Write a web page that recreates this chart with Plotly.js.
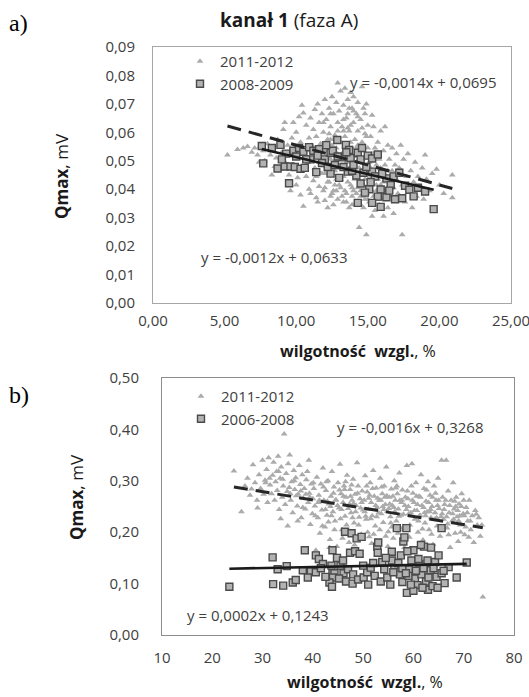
<!DOCTYPE html>
<html><head><meta charset="utf-8">
<script src="https://cdn.plot.ly/plotly-3.0.1.min.js"></script>
<style>html,body{margin:0;padding:0;background:#fff}#chart{width:529px;height:697px}</style>
</head><body><div id="chart"></div>
<script>
// ---------- panel a) kanał 1 (faza A) ----------
const seriesA = ["2011-2012", "2008-2009"];
const triA_x = [
5.2,5.9,6.3,6.6,6.9,7.1,7.3,7.5,7.7,7.8, 7.4,8.0,8.2,8.4,8.5,8.6,8.8,8.9,8.3,8.7,
9.0,9.1,9.2,9.3,9.4,9.5,9.6,9.7,9.8,9.9, 10.0,10.1,10.2,10.3,10.4,10.5,10.5,10.6,10.7,10.8, 10.9,10.9,10.0,9.6,10.3,10.7,11.0,11.0,9.8,10.2,
11.1,11.2,11.2,11.3,11.3,11.4,11.4,11.5,11.5,11.6, 11.6,11.7,11.7,11.8,11.8,11.9,11.9,12.0,12.0,12.0, 12.1,12.1,12.2,12.2,12.3,12.3,12.4,12.4,12.5,12.5, 12.5,12.6,12.6,12.7,12.7,12.8,12.8,12.8,12.9,12.9, 12.9,13.0,13.0,13.0,12.2,11.5,12.6,11.0,12.0,12.3,
13.1,13.1,13.2,13.2,13.3,13.3,13.3,13.4,13.4,13.5, 13.5,13.5,13.6,13.6,13.6,13.7,13.7,13.8,13.8,13.8, 13.9,13.9,14.0,14.0,14.0,14.1,14.1,14.2,14.2,14.2, 14.3,14.3,14.3,14.4,14.4,14.4,14.5,14.5,14.6,14.6, 14.6,14.7,14.7,14.7,14.8,14.8,14.9,14.9,14.9,15.0, 15.0,15.0,13.2,13.9,14.5,13.6,14.8,
15.1,15.1,15.2,15.2,15.3,15.3,15.4,15.4,15.4,15.5, 15.5,15.6,15.6,15.7,15.7,15.8,15.8,15.9,15.9,16.0, 16.0,16.1,16.2,16.2,16.2,16.3,16.4,16.4,16.5,16.5, 16.6,16.7,16.7,16.8,16.8,16.9,17.0,17.0,15.3,16.1, 15.9,16.6,
17.1,17.2,17.3,17.4,17.4,17.5,17.6,17.7,17.8,17.9, 18.0,18.1,18.2,18.3,18.4,18.5,18.6,18.8,18.9,19.1, 19.3,19.5,19.8,20.0,20.3,20.9,20.9,19.0,
11.3,11.6,11.9,12.1,12.4,12.7,12.9,13.1,13.4,13.7, 13.9,14.1,14.4,14.6,14.9,15.2,15.5,15.8,16.1,16.4, 12.2,12.6,13.0,13.3,13.5,13.8,14.0,14.3,14.6,14.9, 15.1,15.4,15.6,11.8,12.0,12.5,12.8,13.2,13.5,13.9, 14.2,14.5,14.7,15.0,15.3,15.7,16.0,16.3,13.6,13.3, 14.0,14.3,12.9,13.7,14.8,12.4,11.9,11.4,10.8,10.4,
12.3,12.7,13.1,13.4,13.8,14.1,14.5,14.8,15.2,15.6, 12.6,13.2,13.9,14.4,15.0,11.7,12.4,13.6,14.2,14.9
];
const triA_y = [
.052,.054,.0545,.055,.053,.0545,.052,.055,.0535,.050, .0495,.056,.052,.0545,.048,.051,.0555,.047,.045,.0575,
.053,.061,.0635,.049,.0555,.045,.052,.058,.0485,.0545, .060,.044,.051,.0565,.0695,.0668,.034,.047,.0625,.0535, .040,.058,.0415,.0395,.038,.0445,.065,.0505,.0635,.0655,
.0555,.061,.043,.068,.0475,.0585,.037,.0525,.070,.0635, .041,.0455,.056,.0665,.0505,.0395,.060,.0535,.0715,.036, .048,.0645,.0575,.0425,.0685,.0515,.0375,.062,.0455,.0555, .0725,.0665,.0395,.050,.059,.0435,.0705,.0545,.0773,.0365, .0635,.0475,.0675,.0565,.0335,.0355,.0345,.0385,.0455,.0595,
.0745,.0405,.0525,.062,.0695,.0445,.0355,.0585,.0755,.0495, .065,.0385,.0715,.0545,.0425,.0605,.0335,.074,.0465,.0565, .0685,.0375,.0515,.0635,.0725,.0435,.0575,.0665,.0355,.0495, .0705,.0405,.0605,.0535,.0265,.0455,.0645,.0375,.076,.0505, .0565,.0415,.0685,.0335,.0595,.0475,.070,.024,.0385,.0545, .0625,.0435,.0485,.0405,.0345,.0615,.0365,
.0495,.0355,.0585,.0415,.0525,.066,.0455,.0375,.062,.0545, .0325,.0485,.0395,.0565,.0435,.0345,.0505,.0605,.0415,.0465, .0365,.0535,.062,.0395,.0485,.0445,.0555,.0335,.0415,.0505, .0375,.0465,.0545,.0405,.0315,.0485,.0435,.0525,.0305,.0305, .0475,.0445,
.0385,.0475,.0555,.024,.0415,.0505,.0355,.0445,.0525,.0395, .0465,.0335,.0425,.0495,.0375,.0445,.0405,.0475,.0365,.0435, .0395,.0455,.047,.0415,.0385,.045,.037,.052,
.0535,.0495,.0545,.0515,.0505,.0465,.0525,.0565,.0475,.0505, .0545,.0485,.0505,.0455,.0515,.0475,.0505,.0445,.0425,.0465, .0545,.0575,.0415,.0605,.0555,.0625,.0395,.0555,.0615,.0455, .0405,.0525,.0435,.0455,.0405,.0385,.0395,.0375,.0355,.0345, .0385,.0395,.0375,.0365,.0395,.0365,.0395,.0375,.0665,.0645, .0675,.0655,.0605,.0685,.0665,.0665,.0635,.0445,.0495,.0475,
.0425,.0415,.0435,.0395,.0415,.0455,.0425,.0435,.0445,.0415, .0485,.0505,.0495,.0475,.0465,.0525,.0575,.0525,.0545,.0585
];
const sqA_x = [
7.6,7.7,8.7,8.9,9.2,9.5,9.6,9.9,9.8,10.2, 10.5,10.9,11.2,11.6,10.3,10.6,11.4,12.0,12.4,12.55,
12.87,13.2,13.47,13.7,13.8,14.3,14.5,15.0,15.3,15.7, 12.4,13.0,13.6,14.2,14.5,15.1,15.9,14.8,15.7,16.3,
16.9,14.3,15.3,15.9,15.3,16.3,16.8,17.2,17.6,17.4, 19.6,11.0,11.8,12.2,12.7,13.3,13.9,14.7,10.0,9.3,
8.3,11.5,12.9,14.0,14.9,15.5,16.0,16.6,17.9,18.5, 19.0,13.5,14.6,12.1,10.7,9.0,18.2,15.2,16.5
];
const sqA_y = [
.0552,.0491,.0473,.0556,.048,.0421,.048,.0478,.0535,.0545, .0532,.0548,.0535,.0541,.0472,.0475,.046,.0505,.0528,.0535,
.0573,.0512,.0556,.0538,.051,.0528,.0505,.0518,.0508,.0522, .0455,.044,.0462,.0448,.042,.040,.0399,.0388,.0374,.0372,
.0365,.0352,.0352,.0338,.0462,.0438,.0445,.0458,.0412,.0368, .033,.0505,.0492,.0478,.0485,.0478,.0465,.0458,.0515,.0525,
.0545,.0518,.0515,.0485,.0478,.0445,.0455,.0415,.0398,.0405, .0392,.053,.0545,.0555,.0505,.0505,.0375,.0425,.0395
];
const trendA_tri = [-0.0014, 0.0695];   // slope, intercept
const trendA_sq  = [-0.0012, 0.0633];
const eqTextA = ["y = -0,0014x + 0,0695", "y = -0,0012x + 0,0633"];

// ---------- panel b) ----------
const seriesB = ["2011-2012", "2006-2008"];
const triB_x = [
24.3,25.8,26.5,27.0,27.5,28.1,28.5,28.9,29.3,29.6, 30.0,30.2,30.5,29.0,27.8,
30.8,31.0,31.2,31.5,31.8,32.0,32.2,32.4,32.6,32.9, 33.1,33.3,33.5,33.7,33.9,34.1,34.3,34.5,34.7,34.9, 35.1,35.4,35.6,35.8,36.0,36.2,36.4,36.6,36.9,37.1, 37.3,37.5,37.7,37.9,38.1,38.3,38.5,38.7,38.9,39.1, 39.3,39.5,39.7,39.9,40.0,31.4,32.8,34.0,35.3,36.7, 38.0,39.2,33.6,35.0,37.0,
40.2,40.4,40.6,40.8,41.0,41.2,41.4,41.6,41.8,42.0, 42.2,42.4,42.6,42.8,43.0,43.2,43.4,43.6,43.8,44.0, 44.2,44.4,44.6,44.8,45.0,45.2,45.4,45.6,45.8,46.0, 46.2,46.4,46.6,46.8,47.0,47.2,47.4,47.6,47.8,48.0, 48.2,48.4,48.6,48.8,49.0,49.2,49.4,49.6,49.8,50.0, 41.1,42.5,43.7,44.9,46.1,47.3,48.5,49.7,40.5,41.9, 43.1,44.3,45.5,46.7,47.9,49.1,42.7,44.1,45.3,46.5, 47.7,48.9,43.3,45.9,48.3,46.9,
50.2,50.4,50.6,50.8,51.0,51.2,51.4,51.6,51.8,52.0, 52.2,52.4,52.6,52.8,53.0,53.2,53.4,53.6,53.8,54.0, 54.2,54.4,54.6,54.8,55.0,55.2,55.4,55.6,55.8,56.0, 56.2,56.4,56.6,56.8,57.0,57.2,57.4,57.6,57.8,58.0, 58.2,58.4,58.7,59.0,59.3,59.7,59.9,50.3,51.5,52.7, 53.9,55.1,56.3,57.5,58.6,59.5,50.9,52.1,53.3,54.5, 55.7,56.9,58.1,59.2,51.3,52.9,54.3,55.9,57.3,58.9, 50.7,53.7,56.5,59.6,51.7,54.9,57.9,
60.1,60.3,60.5,60.7,60.9,61.1,61.3,61.5,61.7,61.9, 62.1,62.3,62.5,62.7,62.9,63.1,63.3,63.5,63.7,63.9, 64.1,64.3,64.5,64.7,64.9,65.1,65.3,65.6,65.8,66.0, 66.2,66.5,66.7,66.9,67.1,67.3,67.5,67.7,67.9,68.1, 68.3,68.5,68.7,68.9,69.1,69.3,69.6,69.9,70.2,70.5, 70.8,71.1,71.4,71.7,72.0,72.3,72.7,73.0,73.3,73.6, 73.8,61.0,62.2,63.4,64.6,65.7,66.8,68.0,69.2,70.4, 60.6,62.6,64.4,66.4,68.4,70.0,61.8,63.6,65.4,67.0, 69.4,71.0,
44.5,45.7,46.3,47.5,48.1,49.5,50.5,51.1,51.9,52.5, 53.1,53.5,54.1,54.7,55.3,55.5,56.1,56.7,57.1,57.7, 58.3,58.8,59.1,59.8,60.2,60.8,61.4,62.0,62.4,63.0, 63.2,63.8,64.2,64.8,65.0,65.5,66.1,66.6,67.2,67.8, 68.2,68.8,69.0,69.5,70.1,70.7,71.3,72.5,35.5,37.6, 39.4,41.3,42.1,43.5,36.3,38.6,40.1,42.9,30.6,33.2
];
const triB_y = [
.319,.240,.290,.305,.272,.331,.296,.262,.312,.285, .340,.274,.301,.247,.284,
.322,.258,.345,.292,.275,.311,.336,.262,.298,.281, .348,.244,.305,.327,.268,.290,.391,.254,.314,.279, .333,.350,.262,.298,.238,.320,.283,.306,.251,.274, .330,.293,.228,.312,.266,.285,.245,.302,.318,.258, .276,.215,.294,.236,.265,.305,.318,.303,.287,.271, .248,.340,.226,.212,.222,
.285,.251,.165,.307,.228,.272,.198,.294,.243,.325, .262,.210,.281,.233,.300,.255,.186,.270,.318,.240, .288,.222,.263,.172,.296,.247,.332,.275,.205,.258, .290,.231,.268,.311,.246,.180,.283,.238,.262,.303, .218,.274,.252,.335,.290,.229,.265,.196,.280,.243, .258,.244,.232,.252,.270,.255,.240,.258,.232,.212, .220,.205,.226,.214,.228,.214,.298,.276,.282,.298, .292,.276,.170,.188,.175,.200,
.262,.310,.225,.278,.244,.191,.296,.258,.232,.320, .270,.212,.286,.248,.178,.262,.305,.236,.275,.219, .290,.254,.327,.241,.201,.268,.230,.284,.252,.188, .300,.262,.222,.275,.245,.315,.208,.258,.282,.235, .170,.268,.330,.250,.214,.333,.276,.240,.226,.230, .250,.246,.240,.233,.244,.238,.200,.196,.205,.192, .210,.198,.205,.190,.272,.266,.268,.270,.262,.265, .290,.288,.286,.290,.178,.172,.182,
.258,.225,.296,.242,.200,.270,.233,.312,.252,.185, .285,.218,.260,.240,.298,.205,.272,.228,.250,.176, .290,.238,.262,.212,.305,.246,.192,.340,.268,.225, .254,.340,.208,.280,.238,.170,.262,.222,.296,.245, .198,.268,.230,.182,.255,.214,.275,.236,.195,.248, .222,.262,.205,.232,.180,.242,.214,.228,.192,.214, .074,.222,.238,.244,.228,.236,.216,.225,.232,.210, .270,.282,.276,.262,.250,.262,.206,.196,.210,.195, .200,.190,
.262,.244,.283,.270,.256,.247,.231,.266,.285,.252, .238,.262,.244,.271,.255,.218,.248,.290,.231,.262, .252,.280,.236,.262,.242,.254,.268,.248,.232,.258, .240,.268,.225,.252,.262,.230,.244,.230,.252,.236, .260,.242,.222,.250,.232,.238,.222,.235,.275,.280, .268,.262,.288,.250,.300,.274,.296,.260,.296,.318
];
const sqB_x = [
23.4,32.0,33.0,34.8,32.1,34.1,36.0,36.6,38.4,40.6, 41.2,42.0,43.9,43.7,43.9,39.6,40.6,41.6,44.3,44.0,
43.3,43.8,46.4,47.7,48.7,49.7,47.4,48.4,49.3,45.5, 46.1,47.0,48.0,45.2,46.6,47.9,49.0,50.1,50.8,51.5,
52.3,52.8,53.0,52.9,53.5,54.2,54.8,55.4,55.7,56.2, 56.7,57.3,57.8,58.0,58.2,58.6,58.7,59.1,59.6,60.0,
60.3,60.8,61.2,61.6,62.1,62.5,62.9,63.4,63.8,64.3, 64.6,65.0,65.6,65.6,66.2,67.0,68.6,70.6,55.7,57.0,
59.0,60.5,61.0,62.0,63.0,64.0,53.8,51.0,50.0,57.5, 56.0,60.0,61.8,59.5,64.8,44.8,46.0,38.0,39.0,42.5,
58.8,61.5,63.5,66.0,54.5,52.0,57.8,58.5,62.8
];
const sqB_y = [
.094,.151,.128,.134,.099,.096,.102,.107,.165,.155, .148,.138,.165,.135,.120,.124,.122,.130,.120,.112,
.102,.094,.201,.198,.188,.191,.160,.163,.158,.135, .120,.128,.118,.110,.104,.100,.108,.112,.122,.131,
.115,.172,.180,.160,.104,.128,.112,.098,.162,.135, .208,.118,.103,.182,.190,.208,.082,.128,.145,.165,
.110,.097,.138,.118,.172,.104,.088,.126,.095,.142, .113,.155,.120,.208,.101,.132,.112,.141,.145,.140,
.115,.125,.148,.130,.112,.130,.142,.098,.135,.155, .122,.086,.092,.098,.092,.150,.145,.126,.112,.113,
.163,.175,.170,.125,.150,.140,.130,.120,.145
];
const trendB_tri = [-0.0016, 0.3268];
const trendB_sq  = [0.0002, 0.1243];
const eqTextB = ["y = -0,0016x + 0,3268", "y = 0,0002x + 0,1243"];

// ---------- helpers ----------
function trendLine(xs, coef) {
  const x0 = Math.min(...xs), x1 = Math.max(...xs);
  return {x: [x0, x1], y: [coef[0]*x0 + coef[1], coef[0]*x1 + coef[1]]};
}
const W = 529, H = 697;
const px = v => v / W, py = v => 1 - v / H;
const FONT = "Open Sans, sans-serif";
const TXT = "#404040";
const triStyle = {symbol: "triangle-up", size: 6, color: "#ababab"};
const sqStyle  = {symbol: "square", size: 7, color: "#b2b2b2", line: {color: "#4a4a4a", width: 1.4}};

const tA = trendLine(triA_x, trendA_tri), sA = trendLine(sqA_x, trendA_sq);
const tB = trendLine(triB_x, trendB_tri), sB = trendLine(sqB_x, trendB_sq);

const traces = [
  {type: "scatter", mode: "markers", name: seriesA[0], x: triA_x, y: triA_y, marker: triStyle, xaxis: "x", yaxis: "y", legend: "legend"},
  {type: "scatter", mode: "markers", name: seriesA[1], x: sqA_x, y: sqA_y, marker: sqStyle, xaxis: "x", yaxis: "y", legend: "legend"},
  {type: "scatter", mode: "lines", x: tA.x, y: tA.y, line: {color: "#262626", width: 3, dash: "14px,8px"}, showlegend: false, xaxis: "x", yaxis: "y"},
  {type: "scatter", mode: "lines", x: sA.x, y: sA.y, line: {color: "#1a1a1a", width: 2.6}, showlegend: false, xaxis: "x", yaxis: "y"},
  {type: "scatter", mode: "markers", name: seriesB[0], x: triB_x, y: triB_y, marker: triStyle, xaxis: "x2", yaxis: "y2", legend: "legend2"},
  {type: "scatter", mode: "markers", name: seriesB[1], x: sqB_x, y: sqB_y, marker: sqStyle, xaxis: "x2", yaxis: "y2", legend: "legend2"},
  {type: "scatter", mode: "lines", x: tB.x, y: tB.y, line: {color: "#262626", width: 3, dash: "14px,8px"}, showlegend: false, xaxis: "x2", yaxis: "y2"},
  {type: "scatter", mode: "lines", x: sB.x, y: sB.y, line: {color: "#1a1a1a", width: 2.6}, showlegend: false, xaxis: "x2", yaxis: "y2"}
];

const axisCommon = {showgrid: false, zeroline: false, showline: true, mirror: true, ticks: "",
  tickfont: {family: FONT, size: 15, color: TXT}, fixedrange: true, ticklabeloverflow: "allow"};

const ann = (text, x, y, opts) => Object.assign({text, x: px(x), y: py(y), xref: "paper", yref: "paper",
  showarrow: false, xanchor: "center", yanchor: "middle", font: {family: FONT, size: 15, color: TXT}}, opts || {});

const layout = {
  width: W, height: H, margin: {l: 0, r: 0, t: 0, b: 0},
  paper_bgcolor: "#fff", plot_bgcolor: "#fff",
  separators: ", ", showlegend: true, hovermode: false,
  font: {family: FONT, color: TXT},
  xaxis: Object.assign({}, axisCommon, {domain: [px(153), px(511)], range: [0, 25], dtick: 5, tick0: 0,
    tickformat: ".2f", linecolor: "#a6a6a6", linewidth: 1, ticklabelstandoff: 4, anchor: "y"}),
  yaxis: Object.assign({}, axisCommon, {domain: [py(303), py(47)], range: [0, 0.09], dtick: 0.01, tick0: 0,
    tickformat: ".2f", linecolor: "#a6a6a6", linewidth: 1, ticklabelstandoff: 14, anchor: "x"}),
  xaxis2: Object.assign({}, axisCommon, {domain: [px(162), px(514)], range: [10, 80], dtick: 10, tick0: 10,
    tickformat: "d", linecolor: "#8c8c8c", linewidth: 1, ticklabelstandoff: 9, anchor: "y2"}),
  yaxis2: Object.assign({}, axisCommon, {domain: [py(635), py(378)], range: [0, 0.5], dtick: 0.1, tick0: 0,
    tickformat: ".2f", linecolor: "#8c8c8c", linewidth: 1, ticklabelstandoff: 19, anchor: "x2"}),
  legend: {x: px(180), xanchor: "left", y: py(45), yanchor: "top", bgcolor: "rgba(0,0,0,0)",
    font: {family: FONT, size: 15, color: TXT}, tracegroupgap: 0},
  legend2: {x: px(181), xanchor: "left", y: py(380), yanchor: "top", bgcolor: "rgba(0,0,0,0)",
    font: {family: FONT, size: 15, color: TXT}, tracegroupgap: 0},
  annotations: [
    ann("a)", 7, 23, {xanchor: "left", font: {family: "Liberation Serif, serif", size: 24, color: "#000"}}),
    ann("b)", 7, 395, {xanchor: "left", font: {family: "Liberation Serif, serif", size: 24, color: "#000"}}),
    ann("<b>kanał 1</b> (faza A)", 289, 20, {font: {family: FONT, size: 19, color: "#1a1a1a"}}),
    ann(eqTextA[0], 423, 82),
    ann(eqTextA[1], 274, 257),
    ann(eqTextB[0], 410, 427),
    ann(eqTextB[1], 258, 615),
    ann("<b>wilgotność  wzgl.</b>, %", 358, 351, {font: {family: FONT, size: 16, color: "#1a1a1a"}}),
    ann("<b>wilgotność  wzgl.</b>, %", 365, 682, {font: {family: FONT, size: 16, color: "#1a1a1a"}}),
    ann("<b>Qmax</b>, mV", 62, 176, {textangle: -90, font: {family: FONT, size: 17, color: "#1a1a1a"}}),
    ann("<b>Qmax</b>, mV", 76, 497, {textangle: -90, font: {family: FONT, size: 17, color: "#1a1a1a"}})
  ]
};

Plotly.newPlot("chart", traces, layout, {staticPlot: true, displayModeBar: false});
</script>
</body></html>
